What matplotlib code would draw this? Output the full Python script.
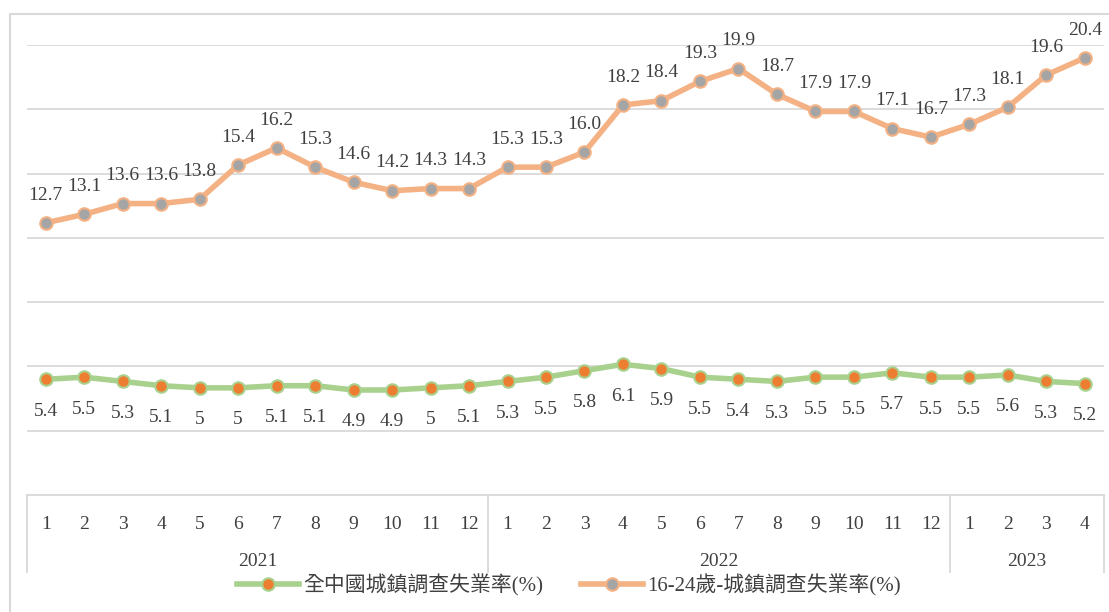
import matplotlib
matplotlib.use("Agg")
import matplotlib.pyplot as plt
import matplotlib.transforms as mtrans
from matplotlib.patches import Rectangle

months = [1, 2, 3, 4, 5, 6, 7, 8, 9, 10, 11, 12,
          1, 2, 3, 4, 5, 6, 7, 8, 9, 10, 11, 12,
          1, 2, 3, 4]
years = ["2021", "2022", "2023"]
year_len = [12, 12, 4]

all_urban = [5.4, 5.5, 5.3, 5.1, 5, 5, 5.1, 5.1, 4.9, 4.9, 5, 5.1,
             5.3, 5.5, 5.8, 6.1, 5.9, 5.5, 5.4, 5.3, 5.5, 5.5, 5.7, 5.5,
             5.5, 5.6, 5.3, 5.2]
youth = [12.7, 13.1, 13.6, 13.6, 13.8, 15.4, 16.2, 15.3, 14.6, 14.2, 14.3, 14.3,
         15.3, 15.3, 16.0, 18.2, 18.4, 19.3, 19.9, 18.7, 17.9, 17.9, 17.1, 16.7,
         17.3, 18.1, 19.6, 20.4]

label_all = "全中國城鎮調查失業率(%)"
label_youth = "16-24歲-城鎮調查失業率(%)"

plt.rcParams['font.family'] = ['Liberation Serif', 'Noto Sans CJK TC', 'DejaVu Sans']

W, H = 1109, 612
fig = plt.figure(figsize=(W / 100, H / 100), dpi=100)

# outer chart border (partly off canvas, like the reference crop)
fig.patches.append(Rectangle((10 / W, -0.1), 1.2, 1.1 - 14 / H, transform=fig.transFigure,
                             fill=False, edgecolor="#d9d9d9", linewidth=1.5))

ax = fig.add_axes([26.5 / W, (H - 495) / H, (1104 - 26.5) / W, (495 - 45) / H])
x = list(range(len(months)))

grey_txt = "#404040"
ax.set_ylim(0, 21)
ax.set_xlim(-0.5, len(months) - 0.5)
ax.set_yticks(range(3, 22, 3))
ax.yaxis.grid(True, color="#d9d9d9", linewidth=1.3)
ax.set_axisbelow(True)
ax.tick_params(axis="y", length=0, labelleft=False)
for s in ["top", "left", "right"]:
    ax.spines[s].set_visible(False)
ax.spines["bottom"].set_color("#d9d9d9")
ax.spines["bottom"].set_linewidth(1.3)

ax.plot(x, all_urban, color="#a9d18e", linewidth=4, marker="o", markersize=9,
        markerfacecolor="#ed7d31", markeredgecolor="#a9d18e", markeredgewidth=1.5,
        label=label_all, zorder=3)
ax.plot(x, youth, color="#f4b183", linewidth=4, marker="o", markersize=9,
        markerfacecolor="#a5a5a5", markeredgecolor="#f4b183", markeredgewidth=1.5,
        label=label_youth, zorder=3)

# data labels (offsets in points, ~0.72 px)
for xi, v in zip(x, all_urban):
    ax.annotate(f"{v:g}", (xi, v), xytext=(0, -23), textcoords="offset points",
                ha="center", va="center", fontsize=14, color=grey_txt)
for xi, v in zip(x, youth):
    ax.annotate(f"{v:.1f}", (xi, v), xytext=(0, 20), textcoords="offset points",
                ha="center", va="center", fontsize=14, color=grey_txt)

# month ticks
ax.set_xticks(x)
ax.set_xticklabels([str(m) for m in months], fontsize=14, color=grey_txt)
ax.tick_params(axis="x", length=0, pad=15)

# year groups and dividers
trans = mtrans.blended_transform_factory(ax.transData, ax.transAxes)
depth = (572 - 495) / (495 - 45)
start = 0
bounds = [-0.5]
for yr, n in zip(years, year_len):
    ax.text(start + (n - 1) / 2, -(562 - 495) / (495 - 45), yr, transform=trans,
            ha="center", va="center", fontsize=14, color=grey_txt)
    start += n
    bounds.append(start - 0.5)
for b in bounds:
    ax.plot([b, b], [0, -depth], transform=trans, color="#d9d9d9", linewidth=1.3,
            clip_on=False)

fig.legend(loc="center", bbox_to_anchor=(0.513, (H - 585) / H), ncol=2, frameon=False,
           fontsize=15, handlelength=3.0, columnspacing=1.8, handletextpad=0.2,
           labelcolor=grey_txt)

fig.savefig("out.png", dpi=100)
